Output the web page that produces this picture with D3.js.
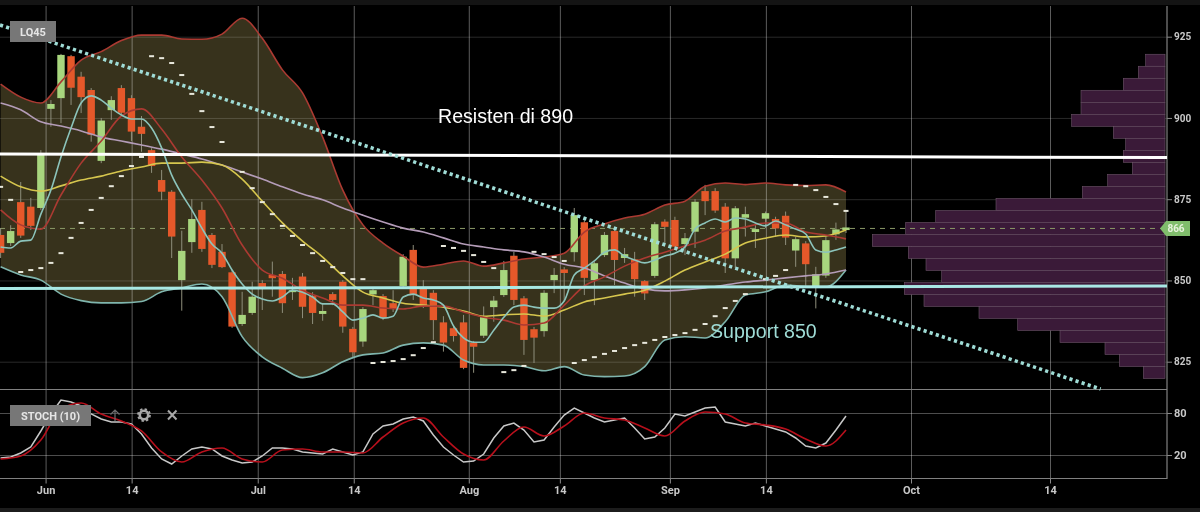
<!DOCTYPE html>
<html>
<head>
<meta charset="utf-8">
<script src="https://cdn.jsdelivr.net/npm/d3@7"></script>
<style>
html, body { margin: 0; background: #000; overflow: hidden; }
svg { display: block; filter: blur(0.55px); }
.tick text { font-family: Roboto, sans-serif; font-weight: 700; fill: #c8c8c8; }
.domain { display: none; }
</style>
</head>
<body>
<div id="chart"></div>
<script>
// candles
const opens = [864,861.5,874.1,872.7,872.3,902.8,906.1,919,912.7,908.6,886.8,902.4,909.2,906.1,897.3,890.1,880.9,877.3,850.1,861.8,871.7,864,858.8,852.5,836.6,840,849.2,851.7,852,846.4,851.2,845.2,839.7,845.8,849.6,835.1,831.2,845.7,845.2,843,848.3,859.4,847.4,846.2,837.1,835.3,837.1,830.8,833,841.8,845.5,857.6,844.5,835,834.4,850.1,853.4,858.7,867.9,850.1,857.8,865.2,856.9,856.5,849.8,851.4,868.1,868.6,861.2,865,877.5,877.5,872.7,856.8,869.3,864.9,869,868.9,869.9,859.2,861.4,848.1,851.5,864.2,865.5];
const closes = [858.5,865.2,863.8,866.8,889.2,904.3,919.4,909.3,906.4,894.8,899.2,905.5,901.6,895.8,895.1,885.2,877.3,863.5,859.1,868.9,859.7,854.8,854.1,835.8,839.4,845,847.4,850.7,843,847,841.9,840,840.6,844,835.8,827.9,841.2,847,838.4,841.4,857.3,845.8,842.1,837.8,830.9,832.9,823.1,829.6,838.7,843.8,853.2,844,831.7,832.4,846.2,851.7,852.3,870.1,850.8,855.3,864,856.3,858.1,850.4,846,867.3,866.5,860.4,863,874.2,874.4,871.5,856.8,872.2,870.4,865.8,870.7,866,863.2,862.7,855,851.9,862.4,865.7,866.3];
const highs = [866.1,867,880.3,875.4,890.1,905.5,919.7,919.4,914.2,909.2,900,906.7,910.1,907,900.6,890.7,884,877.8,865.3,875,874.2,864.6,861.2,853.2,846.5,849.6,850.1,855.8,852.9,850.8,852.3,846.4,843,846.4,850.1,835.7,841.8,847.7,845.8,847,858.1,860.9,850.1,847,839,836.3,839.4,831.4,842,845.2,856,858.8,845.2,835.7,847,853.8,854.1,872.3,868.6,855.7,864.9,865.8,860,858.8,850.1,868,868.8,869.6,864.6,875,879.4,878.4,873.8,872.9,872.7,867,871.2,869.6,871.2,863.4,862.1,854.2,863.5,867.8,871.7];
const lows = [856.9,860.6,863.1,865.5,871.7,897.3,898.4,904,901.5,892.7,886.1,899.4,901.2,892.9,889.6,883.1,874.7,856.9,840.7,858.5,858.8,853.8,853.8,835.4,836,839.4,840.9,845,840,844,838.4,836.6,837.6,842.4,833.9,826.1,829.6,842.4,837.8,840.3,847.7,844,841.5,831.7,828.1,831.2,822.7,821.6,832.3,837.3,844.9,842.4,827.1,824.6,832.7,846.1,843.7,855.8,845.5,842.4,857.2,848.6,855.4,845,844,850.8,861.5,859.7,857.8,860,870.1,870.8,852.3,853.8,863.5,860,866.1,863.5,860.9,854.2,848.1,841.4,850.8,862.5,864.6];

// parabolic SAR
const sar = [878.8,874.8,852.6,853.2,853.8,855.4,858.4,863.1,867.7,871.7,875.4,879,882.1,885.2,888,919,918.4,916.9,913.2,907.4,902.1,897.2,892.6,888.6,883.4,878.4,874.1,870.4,866.8,863.7,860.9,858.4,856,854.1,852.3,850.4,850.4,824.6,824.9,825.2,825.8,827,829.2,831,860.6,860,859.1,857.8,855.7,853.8,821.8,822.4,823.7,858.8,858.1,857.2,856,824.6,825.5,826.4,827.4,828.3,829.2,830.1,830.8,831.7,832.6,833.2,833.8,834.8,836.6,839,841.5,843.7,845.8,848,850.4,851.4,853.2,879.4,879,877.8,875.7,873.5,871.4];

// overlays, the fast average has one reading per candle
const fastMa = [860.3,860,862.1,862.4,870.4,877.8,888,896.9,904.6,906.8,905.5,903,900.9,899.7,899.7,896.9,890.8,882.4,876.6,871.7,866.1,861.2,858.4,853.2,848.9,845.8,844.3,843.7,844.9,847,846.4,844.9,842.8,842.8,840.3,837.8,838.4,839.4,838.4,839,844.9,845.8,844.6,844,842.4,836,832.3,831,831,834.7,838.7,841.8,842.4,841.8,841.5,841.5,843.7,851.7,853.8,856,858.7,859.4,857.5,856.3,855.4,856.3,857.5,858.4,860.3,865.8,867.7,868.9,868,869.2,868.9,867.7,866.8,868.3,867.1,865.8,864.3,859.4,858.7,859.4,860.3];

// these were read at every second candle
const bbUpper = [910.4,906.4,904.6,911.1,917.8,920.4,923.8,925.5,925.5,924.3,924.2,925.8,930.7,924.5,914.8,907.7,894.1,877.8,867.1,861.5,857.5,854.1,855,856,854.4,855.4,856.6,857.2,858.4,864.9,867.4,869.2,870.4,873.2,874.4,879,880,879.5,880,879.4,879.2,879.4,877.2];
const bbLower = [854.2,851.7,850.1,845.8,843.8,843.1,843.1,843.5,846.5,847.7,848.9,845,832.7,826.5,823,820.1,821.6,825,827.1,827.7,830.1,830.8,830.1,825.5,824,824,823.5,822.2,823.5,820.9,820.4,820.6,823.5,831.7,832.7,832.3,837.3,845.5,846.5,848.6,848.1,848,853.2];
const midMa = [871.7,867.1,865.8,876.3,886.1,892.9,900.6,902.8,896.6,888,880.9,872.3,860.9,853.2,850.7,847,844.6,842.4,842.4,841.5,841.2,842.1,842.1,840.3,838.7,837.8,836.3,836.9,842.4,848.3,851.1,854.4,856.9,858.7,860.6,862.4,865.2,866.4,867.7,867.7,864.9,864,862.8];
const slowMa = [882.1,878.8,877.5,879.1,880.9,882.1,883.7,884.9,886.1,886.1,886.4,885.5,881.2,874.4,867.7,862.1,857.2,851.4,846.4,844.6,843,842.4,841.8,840.6,839,839.4,839.7,839,840.9,843.4,844.6,845.8,847,849.8,853.2,855.7,858.1,861.5,863,864,863.4,863.7,865.5];
const longMa = [904.6,902.5,898.8,897.5,896,894.1,892.9,891.7,890.4,888.9,887.4,885.5,883.4,881.2,878.8,876.6,874.8,872.3,870.1,868,866.1,864.9,863.1,861.2,860.3,859.4,858.8,857.2,855,853.8,851.4,849.2,847.4,846.8,847.1,847.7,848.6,849.5,850.1,850.8,851.4,852,853.2];

// stochastic
const stochK = [15.7,17.1,22.9,31.4,54.3,78.6,98.6,95.7,90,78.6,71.4,67.1,67.1,64.3,50,30,14.3,7.1,18.6,28.6,31.4,28.6,18.6,12.9,8.6,10,18.6,30,30,28.6,24.3,22.9,21.4,28.6,24.3,20,24.3,50,61.4,64.3,71.4,74.3,68.6,48.6,31.4,20,10,11.4,21.4,44.3,61.4,65.7,55.7,38.6,41.4,60,77.1,87.1,80,72.9,67.1,70,72.9,58.6,42.9,45.7,58.6,78.6,75.7,81.4,87.1,88.6,67.1,64.3,61.4,65.7,61.4,57.1,52.9,44.3,32.9,30,37.1,55.7,75.7];
const stochD = [14.3,18.6,41.4,85.7,94.3,78.6,68.6,54.3,24.3,10,24.3,30,14.3,10,27.1,28.6,24.3,24.3,22.9,45.7,65.7,72.9,45.7,21.4,12.9,40,60,47.1,61.4,80,72.9,70,58.6,47.1,68.6,81.4,78.6,65.7,62.9,57.1,42.9,32.9,55.7];

// volume by price, top bin first
const profile = [19.3,26.7,41.7,84,84,93.3,51.7,39.3,41.7,32.7,57.3,82.7,169,229.3,259.3,292.7,256.7,239,223.3,260.7,241,186,147.3,105,60,45.7,21.7];
const profileTop = 919.6;
const profileStep = 3.696;

// axes
const priceTicks = [925, 900, 875, 850, 825];
const stochTicks = [80, 20];
const dateTicks = [4.47, 13.02, 25.55, 35.09, 46.52, 55.57, 66.5, 76.04, 90.46, 104.27];
const dateLabels = ["Jun", "14", "Jul", "14", "Aug", "14", "Sep", "14", "Oct", "14"];

// drawn lines
const trendDays = [-0.06, 109.3];
const trendPrices = [928.6, 816.6];
const resistPrices = [888.9, 887.8];
const supportPrices = [847.5, 848.3];
const lastPrice = 866;

const width = 1200, height = 512;
const plotRight = 1167;
const sep = 389.5, stochBottom = 478.5;

const svg = d3.select("#chart").append("svg")
  .attr("width", width)
  .attr("height", height);

svg.append("rect").attr("width", width).attr("height", height).attr("fill", "#000");
svg.append("rect").attr("width", width).attr("height", 5).attr("fill", "#141414");
svg.append("rect").attr("y", 508).attr("width", width).attr("height", 4).attr("fill", "#1c1c1c");

const x = d3.scaleLinear().domain([0, 84]).range([0.6, 846]);
const y = d3.scaleLinear().domain([925, 825]).range([36.7, 361.7]);
const yStoch = d3.scaleLinear().domain([80, 20]).range([413, 455]);
const xProfile = d3.scaleLinear().domain([0, 300]).range([1165, 865]);

const days = d3.range(85);
const everySecond = d3.range(0, 85, 2);

// bollinger band fill sits under everything
svg.append("path")
  .attr("d", d3.area()
    .x(d => x(d))
    .y0((d, i) => y(bbLower[i]))
    .y1((d, i) => y(bbUpper[i]))
    .curve(d3.curveMonotoneX)(everySecond))
  .attr("fill", "#37321c");

// grid
const gridPrice = svg.append("g")
  .attr("transform", `translate(${plotRight},0)`)
  .call(d3.axisRight(y).tickValues(priceTicks).tickSize(5).tickPadding(2));
gridPrice.selectAll("line").attr("stroke", "#8a8a8a");
gridPrice.selectAll("text").attr("font-size", 10);
gridPrice.selectAll(".tick").append("line")
  .attr("x1", -plotRight).attr("x2", 0)
  .attr("stroke", "#fff").attr("stroke-opacity", 0.16);

const gridStoch = svg.append("g")
  .attr("transform", `translate(${plotRight},0)`)
  .call(d3.axisRight(yStoch).tickValues(stochTicks).tickSize(5).tickPadding(2));
gridStoch.selectAll("line").attr("stroke", "#8a8a8a");
gridStoch.selectAll("text").attr("font-size", 11);
gridStoch.selectAll(".tick").append("line")
  .attr("x1", -plotRight).attr("x2", 0)
  .attr("stroke", "#fff").attr("stroke-opacity", 0.3);

const gridDate = svg.append("g")
  .attr("transform", `translate(0,${stochBottom})`)
  .call(d3.axisBottom(x)
    .tickValues(dateTicks)
    .tickFormat((d, i) => dateLabels[i])
    .tickSize(5)
    .tickPadding(3));
gridDate.selectAll("line").attr("stroke", "#8a8a8a");
gridDate.selectAll("text").attr("font-size", 11);
gridDate.selectAll(".tick").append("line")
  .attr("y1", 6 - stochBottom).attr("y2", 0)
  .attr("stroke", "#fff").attr("stroke-opacity", 0.36);

// frame
svg.append("path")
  .attr("d", `M${plotRight},6V${stochBottom}H0M0,${sep}H${plotRight}`)
  .attr("fill", "none")
  .attr("stroke", "#808080")
  .attr("stroke-width", 1.2);

// volume profile on the right
const bins = svg.append("g");
bins.selectAll("rect")
  .data(profile)
  .join("rect")
  .attr("x", d => xProfile(d))
  .attr("y", (d, i) => y(profileTop - i * profileStep))
  .attr("width", d => xProfile(0) - xProfile(d))
  .attr("height", y(0) - y(profileStep))
  .attr("fill", "#3a1a38")
  .attr("stroke", "#6b5468")
  .attr("stroke-width", 0.6);

// last price dashes
svg.append("line")
  .attr("x1", 0).attr("x2", plotRight - 2)
  .attr("y1", y(lastPrice)).attr("y2", y(lastPrice))
  .attr("stroke", "#8b9a68")
  .attr("stroke-width", 1)
  .attr("stroke-dasharray", "5 5");

// candles
const candle = svg.append("g").selectAll("g")
  .data(days)
  .join("g");
candle.append("line")
  .attr("x1", d => x(d)).attr("x2", d => x(d))
  .attr("y1", d => y(highs[d])).attr("y2", d => y(lows[d]))
  .attr("stroke", "#8f8f7c")
  .attr("stroke-width", 1);
candle.append("rect")
  .attr("x", d => x(d) - 3.7)
  .attr("width", 7.4)
  .attr("y", d => y(Math.max(opens[d], closes[d])))
  .attr("height", d => Math.max(1.5, Math.abs(y(opens[d]) - y(closes[d]))))
  .attr("fill", d => closes[d] >= opens[d] ? "#a8d67e" : "#e5582a");

// overlay lines
function overlay(keys, values, color, w) {
  svg.append("path")
    .attr("d", d3.line()
      .x(d => x(d))
      .y((d, i) => y(values[i]))
      .curve(d3.curveMonotoneX)(keys))
    .attr("fill", "none")
    .attr("stroke", color)
    .attr("stroke-width", w);
}
overlay(everySecond, bbUpper, "#ab3a32", 1.6);
overlay(everySecond, bbLower, "#7fb5ad", 1.6);
overlay(everySecond, longMa, "#b49cb8", 1.6);
overlay(everySecond, slowMa, "#d6c64e", 1.6);
overlay(everySecond, midMa, "#ab3a32", 1.6);
overlay(days, fastMa, "#8cc4bb", 1.6);

// parabolic sar dashes
svg.append("g").selectAll("rect")
  .data(days)
  .join("rect")
  .attr("x", d => x(d) - 2.5)
  .attr("y", d => y(sar[d]) - 1)
  .attr("width", 5)
  .attr("height", 2)
  .attr("fill", "#e8e8dc");

// hand drawn support, resistance and trend
function drawn(days, prices, color, w, dash) {
  svg.append("line")
    .attr("x1", x(days[0])).attr("x2", x(days[1]))
    .attr("y1", y(prices[0])).attr("y2", y(prices[1]))
    .attr("stroke", color)
    .attr("stroke-width", w)
    .attr("stroke-dasharray", dash);
}
const acrossPlot = [x.invert(0), x.invert(plotRight)];
drawn(acrossPlot, resistPrices, "#fff", 3);
drawn(acrossPlot, supportPrices, "#a8e8e4", 3);
drawn(trendDays, trendPrices, "#9fdcd6", 3.6, "3.2 3.2");

svg.append("text")
  .attr("x", 438).attr("y", 123)
  .attr("font-family", "Liberation Sans")
  .attr("font-size", 19.6)
  .attr("fill", "#fff")
  .text("Resisten di 890");
svg.append("text")
  .attr("x", 710).attr("y", 338)
  .attr("font-family", "Liberation Sans")
  .attr("font-size", 19.6)
  .attr("fill", "#9fdcd6")
  .text("Support 850");

// last price flag
const flagY = y(lastPrice);
svg.append("path")
  .attr("d", `M1160,${flagY}l6,-7.5h24v15h-24z`)
  .attr("fill", "#80bd6c");
svg.append("text")
  .attr("x", 1176).attr("y", flagY + 3.5)
  .attr("text-anchor", "middle")
  .attr("font-family", "Roboto")
  .attr("font-weight", 700)
  .attr("font-size", 10)
  .attr("fill", "#e6f2dc")
  .text(lastPrice);

// stochastic panel
svg.append("path")
  .attr("d", d3.line().x(d => x(d)).y((d, i) => yStoch(stochK[i]))(days))
  .attr("fill", "none")
  .attr("stroke", "#c8c8c8")
  .attr("stroke-width", 1.5);
svg.append("path")
  .attr("d", d3.line().x(d => x(d)).y((d, i) => yStoch(stochD[i])).curve(d3.curveMonotoneX)(everySecond))
  .attr("fill", "none")
  .attr("stroke", "#b8101c")
  .attr("stroke-width", 1.6);

// badges
function badge(bx, by, w, h, label) {
  svg.append("rect")
    .attr("x", bx).attr("y", by).attr("width", w).attr("height", h)
    .attr("fill", "#777");
  svg.append("text")
    .attr("x", bx + w / 2).attr("y", by + h / 2 + 4)
    .attr("text-anchor", "middle")
    .attr("font-family", "Roboto")
    .attr("font-weight", 700)
    .attr("font-size", 11)
    .attr("fill", "#e6e6e6")
    .text(label);
}
badge(10, 21, 46, 21, "LQ45");
badge(10, 405, 81, 21, "STOCH (10)");

// panel icons
svg.append("path")
  .attr("d", "M115,421V410M110.5,414.5L115,410L119.5,414.5")
  .attr("fill", "none").attr("stroke", "#6e6e6e").attr("stroke-width", 1.2);
svg.append("circle")
  .attr("cx", 144).attr("cy", 415).attr("r", 4.2)
  .attr("fill", "none").attr("stroke", "#a8a8a8").attr("stroke-width", 2.6);
svg.append("circle")
  .attr("cx", 144).attr("cy", 415).attr("r", 6)
  .attr("fill", "none").attr("stroke", "#a8a8a8").attr("stroke-width", 1.8)
  .attr("stroke-dasharray", "2.4 2.3");
svg.append("path")
  .attr("d", "M168,410.5L176.5,419.5M176.5,410.5L168,419.5")
  .attr("fill", "none").attr("stroke", "#a8a8a8").attr("stroke-width", 2);
</script>
</body>
</html>
